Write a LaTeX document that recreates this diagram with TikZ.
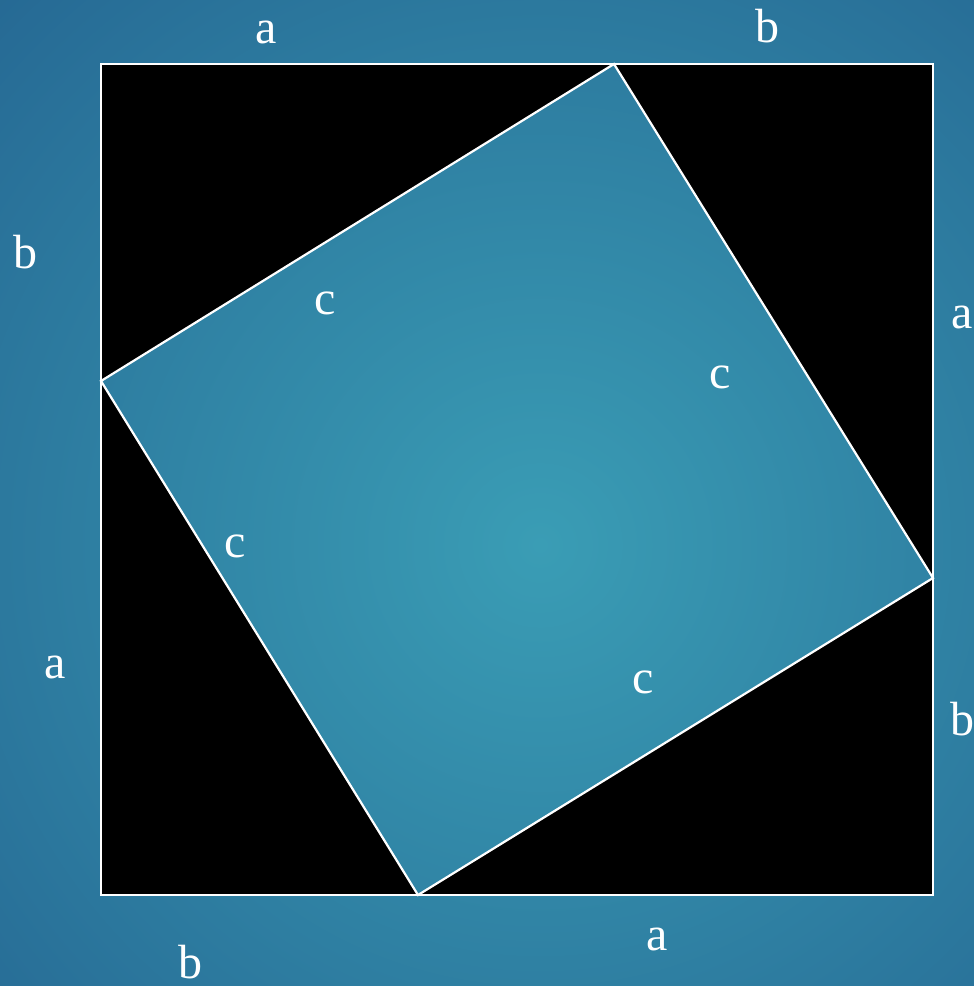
\documentclass[tikz,border=0pt]{standalone}
\usepackage{fontspec}
\setmainfont{Liberation Serif}
\usetikzlibrary{positioning}
\definecolor{bgedge}{HTML}{1C5084}
\definecolor{bgmid}{HTML}{3A9DB5}

\begin{document}
\begin{tikzpicture}[x=0.5pt,y=-0.5pt,edge/.style={draw=white,line width=1.1pt,line join=miter},lbl/.style={text=white,anchor=base,inner sep=0pt,font=\fontsize{24}{26}\selectfont}]
\useasboundingbox (0,0) rectangle (974,986);
\clip (0,0) rectangle (974,986);
\fill[inner color=bgmid,outer color=bgedge] (540,545) circle (1150);
% outer square
\coordinate (tl) at (101,64);\coordinate (tr) at (933,64);
\coordinate (br) at (933,895);\coordinate (bl) at (101,895);
% tilted square
\coordinate (qt) at (614,64);\coordinate (qr) at (933,578);
\coordinate (qb) at (418,895);\coordinate (ql) at (101,381);
\fill[black] (tl)--(qt)--(ql)--cycle;
\fill[black] (qt)--(tr)--(qr)--cycle;
\fill[black] (qr)--(br)--(qb)--cycle;
\fill[black] (qb)--(bl)--(ql)--cycle;
\draw[edge] (tl)--(tr)--(br)--(bl)--cycle;
\draw[edge] (qt)--(qr)--(qb)--(ql)--cycle;
% side labels
\node[lbl] (topa) at (266,43) {a};
\node[lbl] (topb) at (767,42) {b};
\node[lbl] (lftb) at (25,268) {b};
\node[lbl] (lfta) at (55,678) {a};
\node[lbl] (rgta) at (962,328) {a};
\node[lbl] (rgtb) at (962,735) {b};
\node[lbl] (btma) at (657,950) {a};
\node[lbl] (btmb) at (190,978) {b};
\node[lbl] (hyp1) at (325,314) {c};
\node[lbl] (hyp2) at (720,388) {c};
\node[lbl] (hyp3) at (235,557) {c};
\node[lbl] (hyp4) at (643,693) {c};
\end{tikzpicture}
\end{document}
